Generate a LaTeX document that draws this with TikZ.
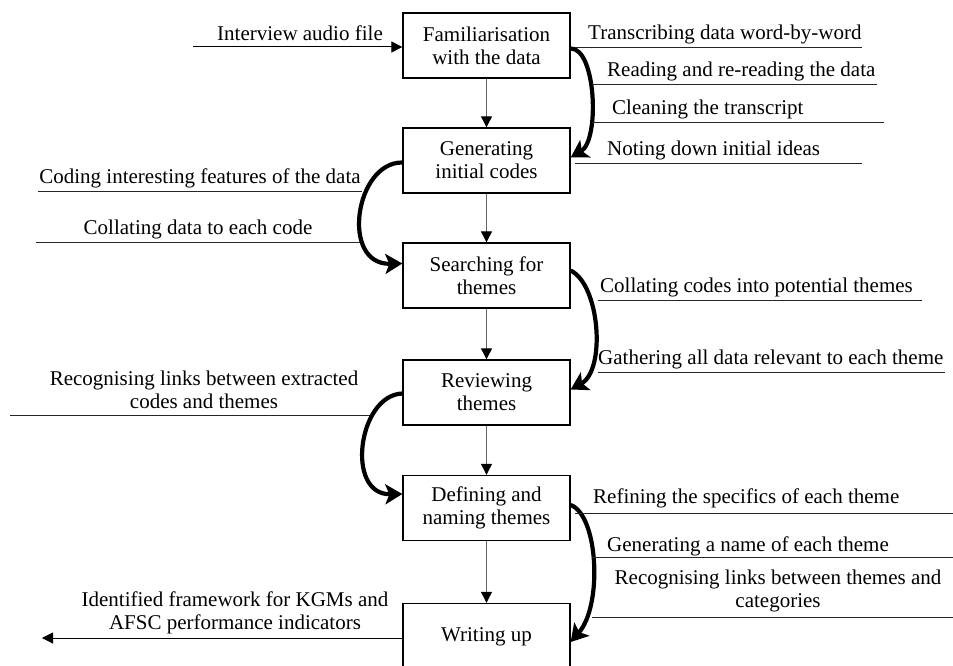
\documentclass[tikz,border=0pt]{standalone}
\usepackage{fontspec}
\setmainfont{Liberation Serif}
\usetikzlibrary{arrows.meta}
\begin{document}
\begin{tikzpicture}[x=1pt,y=-1pt,
  every node/.style={font=\fontsize{21}{23}\selectfont, inner sep=0pt},
  stagebox/.style={draw, line width=1.3pt, minimum width=167pt, minimum height=65pt, align=center},
  vconn/.style={draw=black!60, line width=0.9pt, -{Triangle[length=11pt,width=11pt,color=black]}},
  bigcurve/.style={line width=4.2pt, -{Stealth[length=17pt,width=20pt,inset=4pt]}},
  hline/.style={draw=black!85, line width=1pt},
  lbl/.style={anchor=base west},
  clbl/.style={anchor=base, align=center}
]
\useasboundingbox (0,0) rectangle (953,666);

% stage boxes
\node[stagebox] (b1) at (486.5,45.5) {Familiarisation\\with the data};
\node[stagebox] (b2) at (486.5,160.5) {Generating\\initial codes};
\node[stagebox] (b3) at (486.5,275.5) {Searching for\\themes};
\node[stagebox] (b4) at (486.5,392.5) {Reviewing\\themes};
\node[stagebox] (b5) at (486.5,508) {Defining and\\naming themes};
\node[stagebox, minimum height=67pt] (b6) at (486.5,637) {Writing up};

% vertical connectors
\draw[vconn] (b1) -- (b2);
\draw[vconn] (b2) -- (b3);
\draw[vconn] (b3) -- (b4);
\draw[vconn] (b4) -- (b5);
\draw[vconn] (b5) -- (b6);

% input arrow
\coordinate (inA) at (193,47);
\draw[line width=1pt, -{Triangle[length=11pt,width=11pt]}] (inA) -- (inA -| b1.west);
\node[clbl] (tin) at (300,41) {Interview audio file};

% output arrow
\coordinate (outA) at (42,638);
\draw[line width=1pt, -{Triangle[length=11pt,width=11pt]}] (outA -| b6.west) -- (outA);
\node[clbl] (tout) at (235,629) {Identified framework for KGMs and\\AFSC performance indicators};

% curve 1 (right): b1 -> b2
\draw[bigcurve] ([yshift=-3pt]b1.east) .. controls (596,48) and (600,140) .. ([yshift=3pt]b2.east);
\draw[hline] (575,48) -- (862,48);
\node[lbl] (t11) at (588,40) {Transcribing data word-by-word};
\draw[hline] (592,85) -- (877,85);
\node[lbl] (t12) at (607,77) {Reading and re-reading the data};
\draw[hline] (592,123) -- (884,123);
\node[lbl] (t13) at (612,115) {Cleaning the transcript};
\draw[hline] (575,163) -- (862,163);
\node[lbl] (t14) at (607,155) {Noting down initial ideas};

% curve 2 (left): b2 -> b3
\draw[bigcurve] ([yshift=-2pt]b2.west) .. controls (355,162) and (340,265) .. ([yshift=12pt]b3.west);
\draw[hline] (38,191) -- (362,191);
\node[clbl] (t21) at (200,183) {Coding interesting features of the data};
\draw[hline] (36,242) -- (360,242);
\node[clbl] (t22) at (198,234) {Collating data to each code};

% curve 3 (right): b3 -> b4
\draw[bigcurve] ([yshift=5pt]b3.east) .. controls (600,285) and (606,370) .. ([yshift=3pt]b4.east);
\draw[hline] (598,300) -- (922,300);
\node[lbl] (t31) at (600,292) {Collating codes into potential themes};
\draw[hline] (598,372) -- (945,372);
\node[lbl] (t32) at (598,364) {Gathering all data relevant to each theme};

% curve 4 (left): b4 -> b5
\draw[bigcurve] ([yshift=-1pt]b4.west) .. controls (358,395) and (345,495) .. ([yshift=14pt]b5.west);
\draw[hline] (10,415) -- (370,415);
\node[clbl] (t41) at (204,408) {Recognising links between extracted\\codes and themes};

% curve 5 (right): b5 -> b6
\draw[bigcurve] ([yshift=3pt]b5.east) .. controls (598,515) and (603,605) .. ([yshift=-5pt]b6.east);
\draw[hline] (575,513) -- (953,513);
\node[lbl] (t51) at (593,503) {Refining the specifics of each theme};
\draw[hline] (592,557) -- (953,557);
\node[lbl] (t52) at (607,551) {Generating a name of each theme};
\draw[hline] (592,617) -- (953,617);
\node[clbl] (t53) at (778,607) {Recognising links between themes and\\categories};
\end{tikzpicture}
\end{document}
